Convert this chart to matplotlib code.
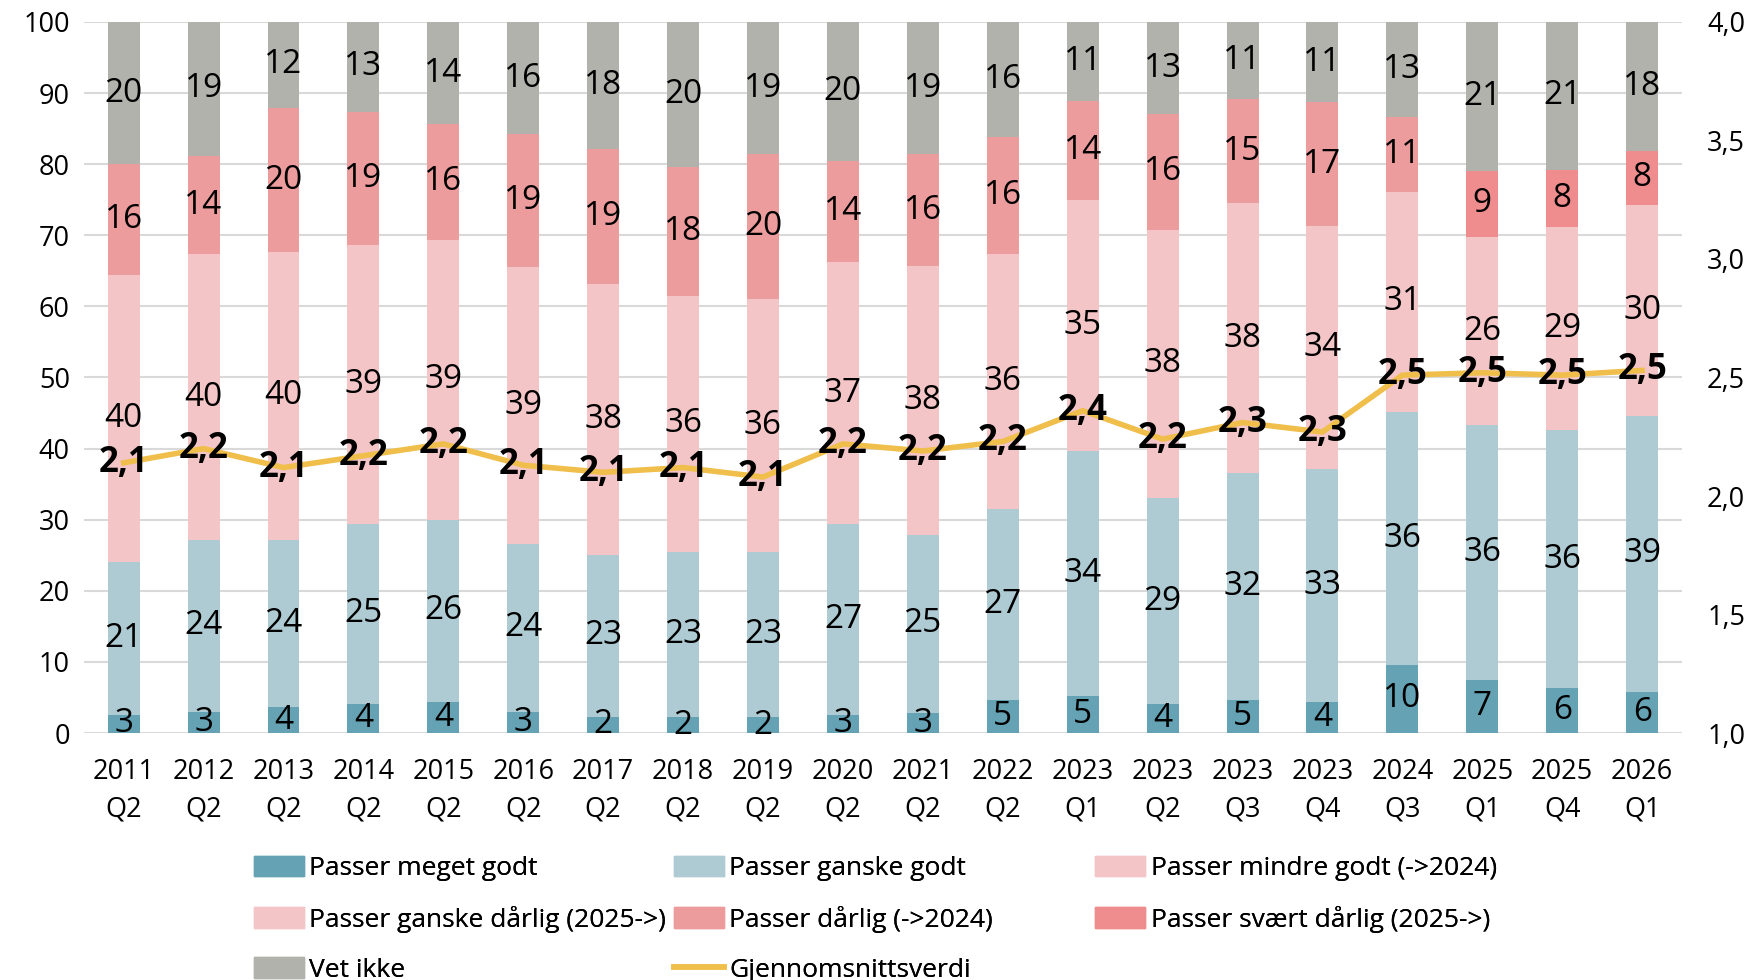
import matplotlib.pyplot as plt
import numpy as np
from matplotlib.patches import Patch
from matplotlib.lines import Line2D

plt.rcParams['font.family'] = ['Open Sans', 'DejaVu Sans']

periods = ['2011\nQ2', '2012\nQ2', '2013\nQ2', '2014\nQ2', '2015\nQ2', '2016\nQ2', '2017\nQ2',
           '2018\nQ2', '2019\nQ2', '2020\nQ2', '2021\nQ2', '2022\nQ2', '2023\nQ1', '2023\nQ2',
           '2023\nQ3', '2023\nQ4', '2024\nQ3', '2025\nQ1', '2025\nQ4', '2026\nQ1']

meget_godt = [2.6, 3.0, 3.6, 4.1, 4.4, 3.0, 2.3, 2.2, 2.2, 2.6, 2.8, 4.6, 5.2, 4.1, 4.6, 4.4, 9.6, 7.4, 6.3, 5.8]
ganske_godt = [21.4, 24.2, 23.6, 25.3, 25.6, 23.6, 22.7, 23.3, 23.2, 26.8, 25.1, 26.9, 34.4, 28.9, 31.9, 32.7, 35.6, 35.9, 36.3, 38.8]
mindre_godt = [40.4, 40.1, 40.4, 39.3, 39.4, 39.0, 38.1, 36.0, 35.6, 36.8, 37.8, 35.9, 35.4, 37.8, 38.0, 34.2, 30.9, 0, 0, 0]
ganske_darlig = [0] * 17 + [26.4, 28.6, 29.7]
darlig = [15.6, 13.9, 20.3, 18.7, 16.2, 18.6, 19.1, 18.1, 20.4, 14.2, 15.7, 16.4, 13.9, 16.2, 14.6, 17.4, 10.6, 0, 0, 0]
svaert_darlig = [0] * 17 + [9.4, 8.0, 7.6]
vet_ikke = [20.0, 18.8, 12.1, 12.6, 14.4, 15.8, 17.8, 20.4, 18.6, 19.6, 18.6, 16.2, 11.1, 13.0, 10.9, 11.3, 13.3, 20.9, 20.8, 18.1]
snitt = [2.14, 2.20, 2.12, 2.17, 2.22, 2.13, 2.10, 2.12, 2.08, 2.22, 2.19, 2.23, 2.36, 2.24, 2.31, 2.27, 2.51, 2.52, 2.51, 2.53]

series = [
    ('Passer meget godt', meget_godt, '#64a2b4'),
    ('Passer ganske godt', ganske_godt, '#aecbd3'),
    ('Passer mindre godt (->2024)', mindre_godt, '#f4c5c6'),
    ('Passer ganske dårlig (2025->)', ganske_darlig, '#f4c5c6'),
    ('Passer dårlig (->2024)', darlig, '#ed9c9d'),
    ('Passer svært dårlig (2025->)', svaert_darlig, '#ef8c8d'),
    ('Vet ikke', vet_ikke, '#b2b2ad'),
]
line_color = '#f0be4b'


def main():
    fig = plt.figure(figsize=(17.44, 9.8), dpi=100)
    ax = fig.add_axes([0.048, 0.252, 0.9165, 0.7256])
    x = np.arange(len(periods))
    bottom = np.zeros(len(periods))
    handles = {}
    for name, vals, col in series:
        vals = np.array(vals, dtype=float)
        ax.bar(x, vals, 0.4, bottom=bottom, color=col, zorder=2)
        for xi, b, v in zip(x, bottom, vals):
            if v > 0:
                ax.text(xi, b + v / 2, f'{v:.0f}', ha='center', va='center',
                        fontsize=24, color='black', zorder=3)
        bottom += vals
        handles[name] = Patch(color=col, label=name)

    ax.set_xlim(-0.5, len(periods) - 0.5)
    ax.set_ylim(0, 100)
    ax.set_yticks(range(0, 101, 10))
    ax.grid(axis='y', color='#d9d9d9', linewidth=1.5, zorder=0)
    ax.set_axisbelow(True)
    for s in ax.spines.values():
        s.set_visible(False)
    ax.tick_params(length=0, labelsize=19.5)
    ax.tick_params(axis='y', pad=10)
    ax.tick_params(axis='x', pad=18)
    ax.set_xticks(x)
    ax.set_xticklabels(periods, linespacing=1.45)

    ax2 = ax.twinx()
    ax2.set_ylim(1.0, 4.0)
    ax2.set_yticks(np.arange(1.0, 4.01, 0.5))
    ax2.set_yticklabels([f'{t:.1f}'.replace('.', ',') for t in np.arange(1.0, 4.01, 0.5)])
    ax2.tick_params(length=0, labelsize=19.5, pad=18)
    for s in ax2.spines.values():
        s.set_visible(False)
    ax2.plot(x, snitt, color=line_color, linewidth=4, zorder=4, solid_joinstyle='round')
    for xi, v in zip(x, snitt):
        ax2.text(xi, v, f'{v:.1f}'.replace('.', ','), ha='center', va='center',
                 fontsize=25, fontweight='bold', color='black', zorder=5)

    handles['Gjennomsnittsverdi'] = Line2D([], [], color=line_color, linewidth=4, label='Gjennomsnittsverdi')
    columns = [
        (0.1454, ['Passer meget godt', 'Passer ganske dårlig (2025->)', 'Vet ikke']),
        (0.3865, ['Passer ganske godt', 'Passer dårlig (->2024)', 'Gjennomsnittsverdi']),
        (0.628, ['Passer mindre godt (->2024)', 'Passer svært dårlig (2025->)']),
    ]
    for xpos, names in columns:
        leg = fig.legend([handles[k] for k in names], names, loc='upper left',
                         bbox_to_anchor=(xpos, 0.127), frameon=False, prop={'size': 19},
                         handlelength=1.9, handleheight=0.8, handletextpad=0.2,
                         labelspacing=0.94, borderpad=0, borderaxespad=0)
        fig.add_artist(leg)

    fig.savefig('out.png', dpi=100)


if __name__ == '__main__':
    main()
